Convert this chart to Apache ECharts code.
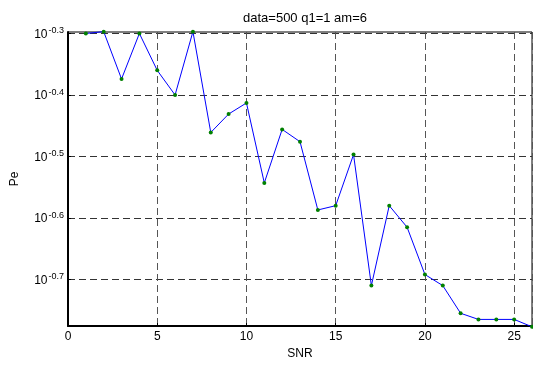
<!DOCTYPE html>
<html>
<head>
<meta charset="utf-8">
<script src="https://cdn.jsdelivr.net/npm/echarts@6/dist/echarts.min.js"></script>
<style>
  html, body { margin: 0; padding: 0; background: #fff; }
  #chart { width: 533px; height: 365px; }
</style>
</head>
<body>
<div id="chart"></div>
<script>
// SNR values and Pe (read as log10 exponents from the picture)
const snr = [1, 2, 3, 4, 5, 6, 7, 8, 9, 10, 11, 12, 13, 14, 15, 16, 17, 18, 19, 20, 21, 22, 23, 24, 25, 26];
const peExp = [-0.300, -0.297, -0.374, -0.300, -0.360, -0.400, -0.297, -0.461, -0.431, -0.413,
  -0.543, -0.456, -0.476, -0.587, -0.580, -0.497, -0.710, -0.580, -0.615, -0.692,
  -0.710, -0.755, -0.765, -0.765, -0.765, -0.777];
const yTickExp = [-0.7, -0.6, -0.5, -0.4, -0.3];

const yMinExp = -0.7757;
const yMaxExp = -0.2976;

const font = 'Liberation Sans, Arial, sans-serif';
const chart = echarts.init(document.getElementById('chart'));

chart.setOption({
  backgroundColor: '#fff',
  animation: false,
  title: {
    text: 'data=500 q1=1 am=6',
    left: 300,
    textAlign: 'center',
    top: 7,
    textStyle: { fontFamily: font, fontSize: 13, fontWeight: 'normal', color: '#000' },
  },
  grid: {
    left: 68, right: 1, top: 32, bottom: 39,
    show: true, borderColor: '#000', borderWidth: 1, backgroundColor: '#fff',
  },
  xAxis: {
    type: 'value',
    min: 0, max: 26, interval: 5,
    name: 'SNR', nameLocation: 'middle', nameGap: 21,
    nameTextStyle: { fontFamily: font, fontSize: 12, color: '#000' },
    axisLine: { onZero: false, lineStyle: { color: '#000', width: 2 } },
    axisTick: { inside: true, length: 3, lineStyle: { color: '#000' } },
    axisLabel: {
      fontFamily: font, fontSize: 12, color: '#000', margin: 5,
      showMaxLabel: false,
    },
    splitLine: { show: true, lineStyle: { color: '#555', type: [7, 4], width: 1 } },
  },
  yAxis: {
    type: 'log',
    logBase: 10,
    min: Math.pow(10, yMinExp), max: Math.pow(10, yMaxExp),
    name: 'Pe', nameLocation: 'middle', nameGap: 47,
    nameTextStyle: { fontFamily: font, fontSize: 12, color: '#000' },
    axisLine: { lineStyle: { color: '#000', width: 2 } },
    axisTick: {
      inside: true, length: 3, lineStyle: { color: '#000' },
      customValues: yTickExp.map(e => Math.pow(10, e)),
    },
    axisLabel: {
      customValues: yTickExp.map(e => Math.pow(10, e)),
      margin: 4,
      formatter: v => '{b|10}{s|' + (Math.round(Math.log10(v) * 10) / 10).toFixed(1) + '}',
      rich: {
        b: { fontFamily: font, fontSize: 12, color: '#000', verticalAlign: 'bottom', lineHeight: 14 },
        s: { fontFamily: font, fontSize: 9, color: '#000', verticalAlign: 'top', lineHeight: 9, padding: [0, 0, 7, 1] },
      },
    },
    splitLine: { show: true, lineStyle: { color: '#333', type: [7, 4], width: 1 } },
  },
  series: [{
    type: 'line',
    data: snr.map((x, i) => [x, Math.pow(10, peExp[i])]),
    lineStyle: { color: '#0000ff', width: 1 },
    itemStyle: { color: '#008000' },
    symbol: 'circle',
    symbolSize: 4,
    showAllSymbol: true,
    clip: false,
  }],
});
</script>
</body>
</html>
